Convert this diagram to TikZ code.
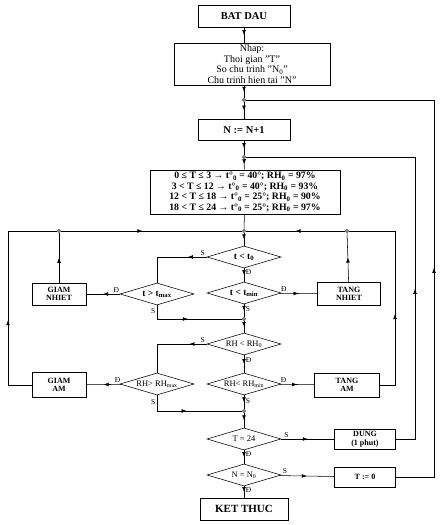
\documentclass[tikz,border=0pt]{standalone}
\usepackage{fontspec}
\setmainfont{Liberation Serif}
\usetikzlibrary{shapes.geometric,arrows.meta,decorations.markings}

\tikzset{
  flow/.style={postaction={decorate},
    decoration={markings,mark=at position #1 with {\arrow{Latex[length=5pt,width=3.8pt]}}}},
  flow/.default=0.5
}

\begin{document}
\begin{tikzpicture}[x=1pt,y=-1pt,line width=0.55pt,font=\fontsize{9}{10}\selectfont]
	\tikzstyle{kuang}=[draw,rectangle,inner sep=0pt,align=center];
	\tikzstyle{ling}=[draw,diamond,aspect=3.4,inner sep=0pt,minimum width=74pt,minimum height=22pt,font=\fontsize{8.5}{9}\selectfont];
	\tikzstyle{dian}=[draw,circle,fill=white,inner sep=0pt,minimum size=3pt];
	\tikzstyle{lab}=[font=\fontsize{7.5}{7.5}\selectfont,inner sep=1.5pt];
	\useasboundingbox (0,0) rectangle (440,525);
	% main column
	\node[kuang,minimum width=92pt,minimum height=22pt,font=\bfseries\fontsize{10.5}{10}\selectfont] (bd) at (244,16) {BAT DAU};
	\node[kuang,minimum width=156pt,minimum height=42pt,font=\fontsize{10}{10.6}\selectfont] (nh) at (252,64)
		{Nhap:\\Thoi gian "T"\\So chu trinh "N\textsubscript{0}"\\Chu trinh hien tai "N"};
	\node[dian] (j1) at (244,100) {};
	\node[kuang,minimum width=92pt,minimum height=21pt,font=\bfseries\fontsize{10.5}{10}\selectfont] (nn) at (244,130) {N := N+1};
	\node[dian] (j2) at (244,157) {};
	\node[kuang,minimum width=190pt,minimum height=44pt,font=\bfseries\fontsize{9.8}{10.5}\selectfont] (tb) at (245,192)
		{0 ≤ T ≤ 3 → t°\textsubscript{0} = 40°; RH\textsubscript{0} = 97\%\\
		 3 < T ≤ 12 → t°\textsubscript{0} = 40°; RH\textsubscript{0} = 93\%\\
		 12 < T ≤ 18 → t°\textsubscript{0} = 25°; RH\textsubscript{0} = 90\%\\
		 18 < T ≤ 24 → t°\textsubscript{0} = 25°; RH\textsubscript{0} = 97\%};
	\node[dian] (j3) at (244,231) {};
	\node[dian] (j6) at (59,231) {};
	\node[dian] (j7) at (347,231) {};
	% temperature
	\node[ling,font=\bfseries\fontsize{9.5}{9}\selectfont] (d1) at (244,257) {t < t\textsubscript{0}};
	\node[ling,font=\bfseries\fontsize{9.5}{9}\selectfont] (d2) at (244,293) {t < t\textsubscript{min}};
	\node[ling,font=\bfseries\fontsize{9.5}{9}\selectfont] (d3) at (157,294) {t > t\textsubscript{max}};
	\node[kuang,minimum width=54pt,minimum height=22pt,font=\bfseries\fontsize{8}{8.5}\selectfont] (gn) at (59,294) {GIAM\\NHIET};
	\node[kuang,minimum width=63pt,minimum height=23pt,font=\bfseries\fontsize{8}{8.5}\selectfont] (tn) at (349,294) {TANG\\NHIET};
	\node[dian] (j4) at (244,319) {};
	% humidity
	\node[ling] (d4) at (244,344) {RH < RH\textsubscript{0}};
	\node[ling] (d5) at (244,384) {RH< RH\textsubscript{min}};
	\node[ling] (d6) at (157,384) {RH> RH\textsubscript{max}};
	\node[kuang,minimum width=54pt,minimum height=25pt,font=\bfseries\fontsize{8}{8.5}\selectfont] (ga) at (59,385) {GIAM\\AM};
	\node[kuang,minimum width=65pt,minimum height=24pt,font=\bfseries\fontsize{8}{8.5}\selectfont] (ta) at (347,385) {TANG\\AM};
	\node[dian] (j5) at (244,411) {};
	% end
	\node[ling] (d7) at (244,439) {T = 24};
	\node[ling] (d8) at (244,475) {N = N\textsubscript{0}};
	\node[kuang,minimum width=61pt,minimum height=20pt,font=\bfseries\fontsize{8}{8.5}\selectfont] (dg) at (365,439) {DUNG\\(1 phut)};
	\node[kuang,minimum width=61pt,minimum height=20pt,font=\bfseries\fontsize{8}{8.5}\selectfont] (t0) at (365,477) {T := 0};
	\node[kuang,minimum width=88pt,minimum height=22pt,font=\bfseries\fontsize{11}{10}\selectfont] (kt) at (244,509) {KET THUC};
	% loop corners
	\coordinate (lw) at (8,385);
	\coordinate (lt) at (8,231);
	\coordinate (rw) at (395,385);
	\coordinate (rt) at (395,231);
	\coordinate (dw) at (415,439);
	\coordinate (dt) at (415,157);
	\coordinate (tw) at (434,477);
	\coordinate (tt) at (434,100);
	% main flow
	\draw[flow] (bd) -- (bd |- nh.north);
	\draw[flow] (nh.south -| j1) -- (j1);
	\draw[flow] (j1) -- (nn);
	\draw[flow] (nn) -- (j2);
	\draw[flow] (j2) -- (tb);
	\draw (tb) -- (j3);
	\draw[flow] (j3) -- (d1);
	\draw[flow] (d1) -- node[lab,right,pos=0.3]{Đ} (d2);
	\draw[flow=0.25] (d1.west) -- node[lab,above,pos=0.08]{S} (d1.west -| d3) -- (d3.north);
	\draw[flow] (d2) -- node[lab,above,pos=0.1]{Đ} (tn);
	\draw[flow] (d3) -- node[lab,above,pos=0.1]{Đ} (gn);
	\draw[flow=0.45] (d3.south) -- node[lab,left,pos=0.4]{S} (d3.south |- j4) -- (j4);
	\draw[flow] (d2) -- node[lab,right,pos=0.4]{S} (j4);
	\draw[flow] (gn) -- (j6);
	\draw[flow] (tn) -- (j7);
	\draw[flow] (j4) -- (d4);
	\draw[flow] (d4) -- node[lab,right,pos=0.3]{Đ} (d5);
	\draw[flow=0.22] (d4.west) -- node[lab,above,pos=0.08]{S} (d4.west -| d6) -- (d6.north);
	\draw[flow] (d5) -- node[lab,above,pos=0.1]{Đ} (ta);
	\draw[flow] (d6) -- node[lab,above,pos=0.1]{Đ} (ga);
	\draw[flow=0.45] (d6.south) -- node[lab,left,pos=0.4]{S} (d6.south |- j5) -- (j5);
	\draw[flow] (d5) -- node[lab,right,pos=0.4]{S} (j5);
	% back loops
	\draw[flow=0.39] (ga) -- (lw) -- (lt) -- (j6);
	\draw[flow=0.45] (j6) -- (j3);
	\draw[flow=0.4] (ta) -- (rw) -- (rt) -- (j7);
	\draw[flow] (j7) -- (j3);
	\draw[flow] (j5) -- (d7);
	\draw[flow] (d7) -- node[lab,above,pos=0.1]{S} (dg);
	\draw[flow=0.36] (dg) -- (dw) -- (dt) -- (j2);
	\draw[flow] (d7) -- node[lab,right,pos=0.3]{Đ} (d8);
	\draw[flow] (d8) -- node[lab,above,pos=0.1]{S} (t0);
	\draw[flow=0.41] (t0) -- (tw) -- (tt) -- (j1);
	\draw[flow] (d8) -- node[lab,right,pos=0.3]{Đ} (kt);
\end{tikzpicture}
\end{document}
